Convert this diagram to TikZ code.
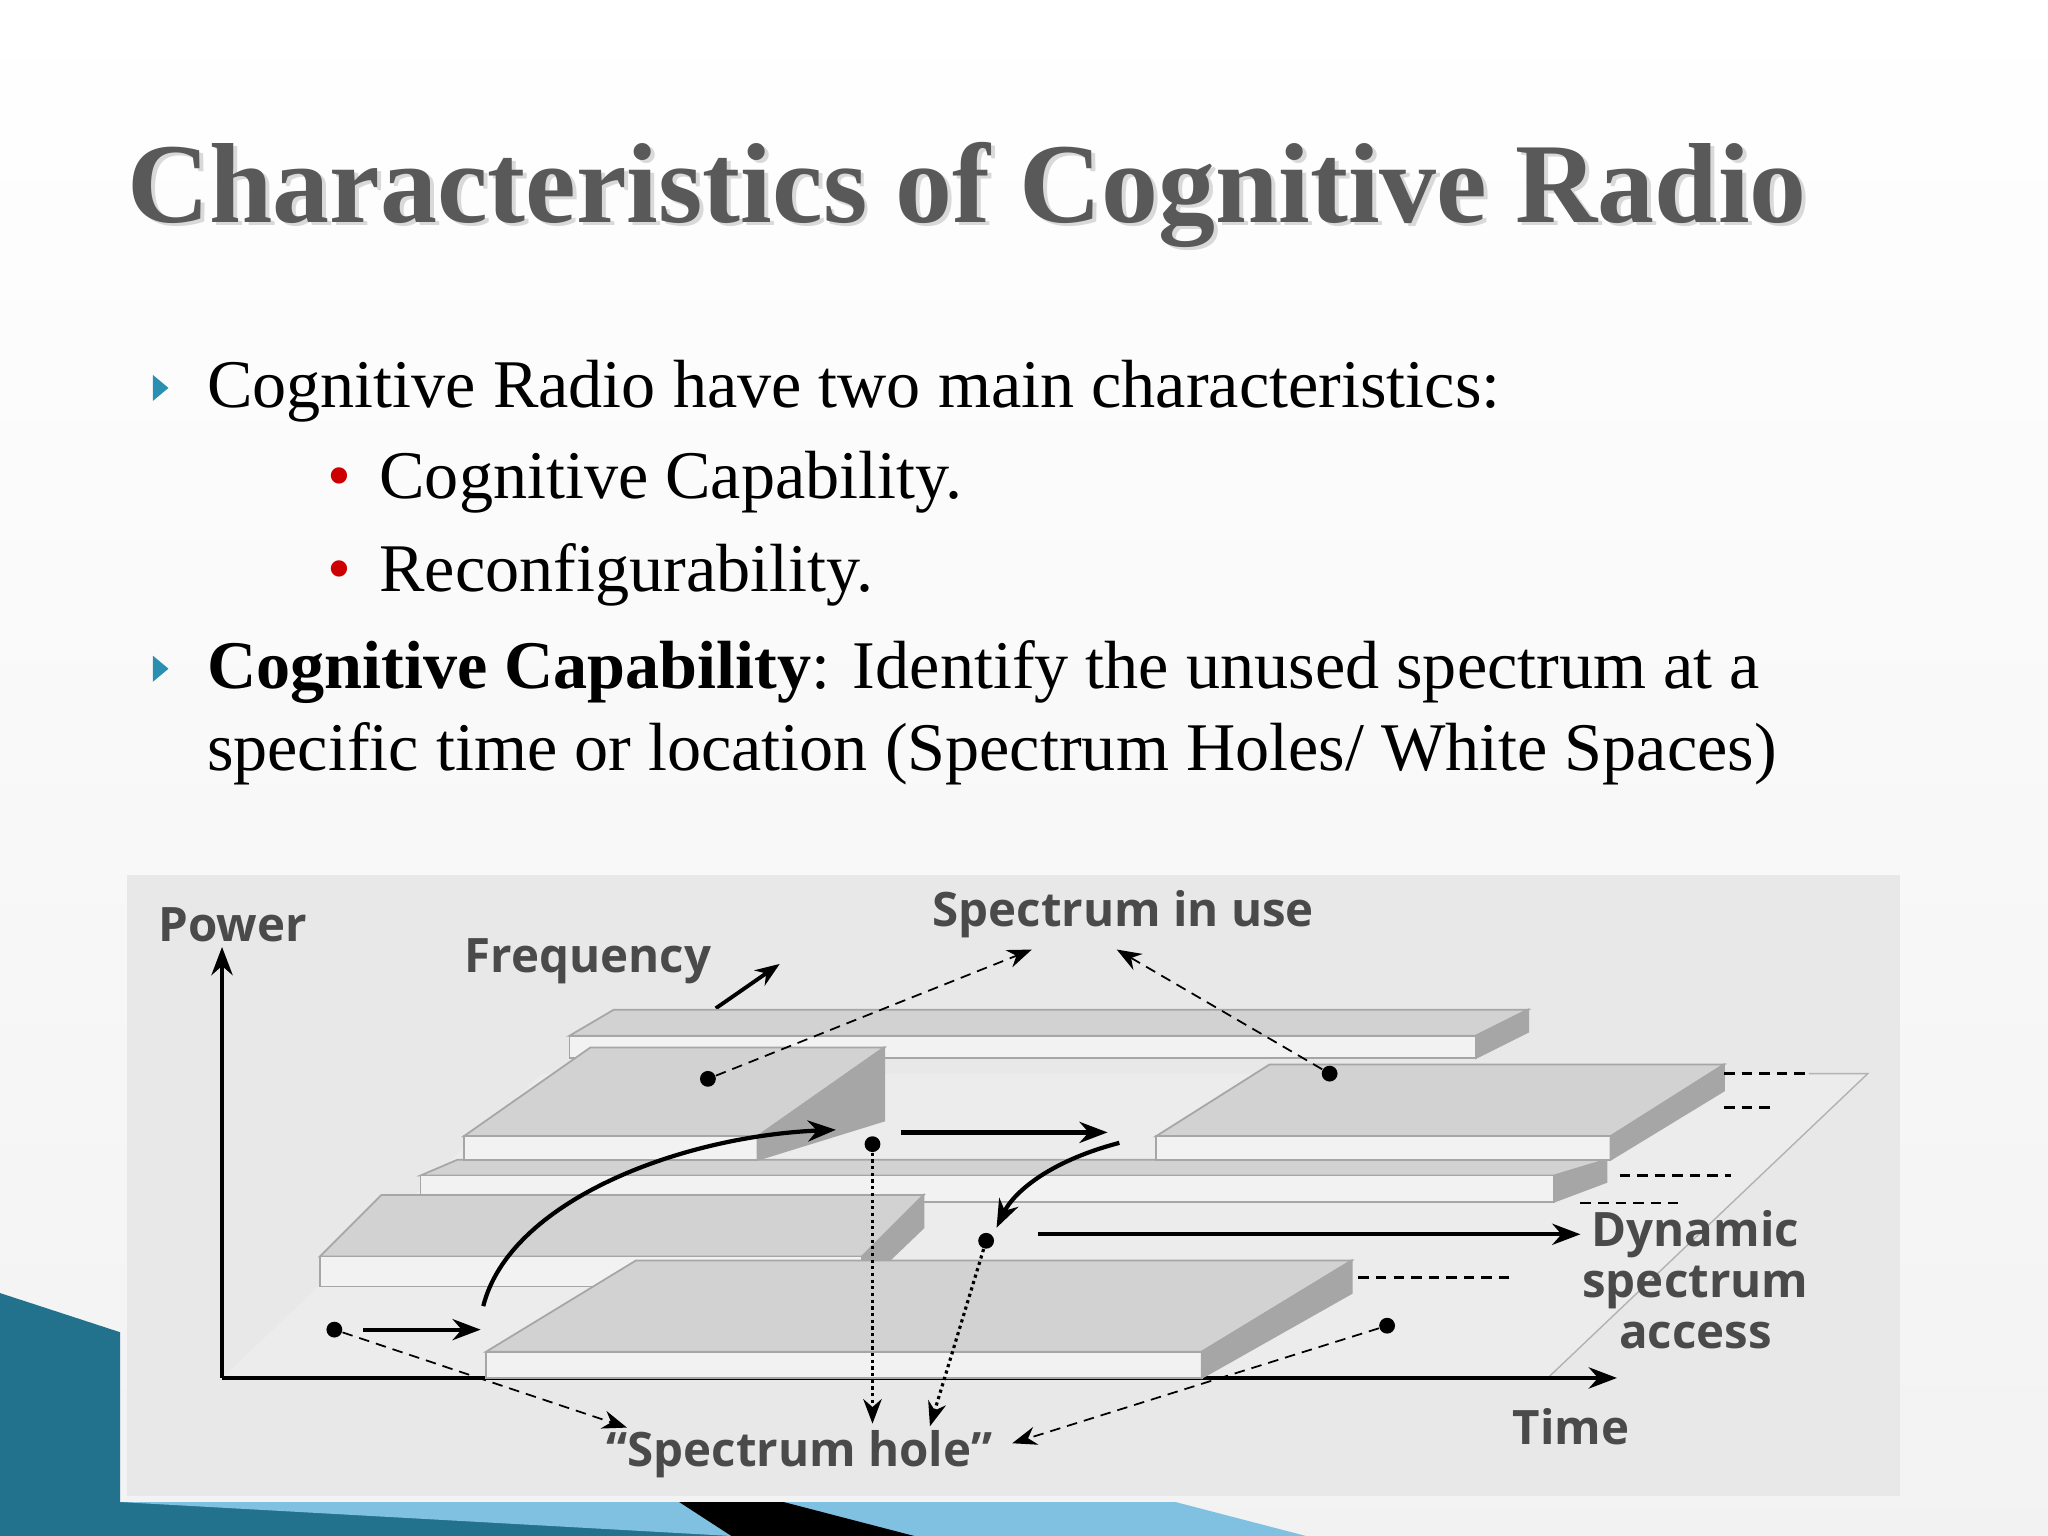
\documentclass[tikz,border=0pt]{standalone}
\usepackage{fontspec}
\setmainfont{Liberation Serif}
\newfontfamily\lab{Open Sans}
\usetikzlibrary{arrows.meta}
\definecolor{lbl}{HTML}{4A4A4A}
\definecolor{topf}{HTML}{D2D2D2}
\definecolor{frontf}{HTML}{F2F2F2}
\definecolor{sidef}{HTML}{A6A6A6}
\definecolor{teal}{HTML}{2A8FB0}
\tikzset{
 lbltext/.style={font=\lab\bfseries\fontsize{13.5}{14}\selectfont, text=lbl, inner sep=0},
 top/.style={fill=topf, draw=gray!70, line width=0.5pt},
 front/.style={fill=frontf, draw=gray!70, line width=0.5pt},
 side/.style={fill=sidef, draw=gray!70, line width=0.5pt},
 dotc/.style={circle, fill=black, inner sep=0, minimum size=4.5pt},
 dsh/.style={densely dashed, line width=0.5pt, -{Stealth[length=7pt]}},
 dtt/.style={densely dotted, line width=0.9pt, -{Stealth[length=7pt]}},
 sol/.style={line width=1.2pt, -{Stealth[length=8pt]}},
 bul/.style={font=\fontsize{19.4}{22}\selectfont, anchor=base west, inner sep=0},
}
\begin{document}
\begin{tikzpicture}[x=0.01306cm, y=-0.01306cm]
\useasboundingbox (0,0) rectangle (1568,1176);
\shade[top color=white, bottom color=gray!10] (0,0) rectangle (1568,1176);
% decoration
\fill[teal!80!black] (0,990) -- (92,1020) -- (92,1150) -- (520,1150) -- (560,1176) -- (0,1176) -- cycle;
\fill[cyan!50!teal!60] (92,1150) -- (900,1150) -- (1000,1176) -- (560,1176) -- cycle;
\fill[black] (520,1150) -- (600,1150) -- (700,1176) -- (560,1176) -- cycle;
% title
\node[font=\bfseries\fontsize{32.4}{36}\selectfont, text=gray!30, anchor=base west, inner sep=0] at (100,173) {Characteristics of Cognitive Radio};
\node[font=\bfseries\fontsize{32.4}{36}\selectfont, text=black!65, anchor=base west, inner sep=0] (title) at (97,170) {Characteristics of Cognitive Radio};
% bullets
\fill[teal] (117,287) -- (129,297) -- (117,307) -- cycle;
\node[bul] (b1) at (158,312) {Cognitive Radio have two main characteristics:};
\node[bul, text=red!80!black] (s1) at (250,382) {\textbullet};
\node[bul] (t1) at (290,382) {Cognitive Capability.};
\node[bul, text=red!80!black] (s2) at (250,453) {\textbullet};
\node[bul] (t2) at (290,453) {Reconfigurability.};
\fill[teal] (117,502) -- (129,512) -- (117,522) -- cycle;
\node[bul] (b2) at (158,527) {\textbf{Cognitive Capability}: Identify the unused spectrum at a};
\node[bul] (b3) at (158,590) {specific time or location (Spectrum Holes/ White Spaces)};
% diagram panel
\fill[gray!18] (97,670) rectangle (1455,1145);
\fill[white!85!gray] (170,1055) -- (1185,1055) -- (1430,822) -- (415,822) -- cycle;
\draw[gray!60] (1185,1055) -- (1430,822) -- (1385,822);
% axes
\draw[line width=1.3pt, -{Stealth[length=8pt]}] (170,1055) -- (170,725);
\draw[line width=1.3pt, -{Stealth[length=8pt]}] (170,1055) -- (1238,1055);
\draw[line width=1.1pt, -{Stealth[length=7pt]}] (548,772) -- (597,738);
% back long slab
\fill[top] (436,793) -- (1130,793) -- (1170,773) -- (470,773) -- cycle;
\fill[front] (436,793) rectangle (1130,810);
\fill[side] (1130,793) -- (1170,773) -- (1170,790) -- (1130,810) -- cycle;
% thin long slab
\fill[top] (322,900) -- (1190,900) -- (1230,888) -- (350,888) -- cycle;
\fill[front] (322,900) rectangle (1190,920);
\fill[side] (1190,900) -- (1230,888) -- (1230,905) -- (1190,920) -- cycle;
% slab A
\fill[top] (355,870) -- (580,870) -- (677,802) -- (452,802) -- cycle;
\fill[front] (355,870) rectangle (580,888);
\fill[side] (580,870) -- (677,802) -- (677,858) -- (580,888) -- cycle;
% slab B
\fill[top] (885,870) -- (1233,870) -- (1320,815) -- (972,815) -- cycle;
\fill[front] (885,870) rectangle (1233,888);
\fill[side] (1233,870) -- (1320,815) -- (1320,835) -- (1233,888) -- cycle;
% slab C
\fill[top] (245,962) -- (660,962) -- (707,915) -- (292,915) -- cycle;
\fill[front] (245,962) rectangle (660,985);
\fill[side] (660,962) -- (707,915) -- (707,940) -- (660,985) -- cycle;
% slab D
\fill[top] (372,1035) -- (920,1035) -- (1035,965) -- (487,965) -- cycle;
\fill[front] (372,1035) rectangle (920,1055);
\fill[side] (920,1035) -- (1035,965) -- (1035,990) -- (920,1055) -- cycle;
% dashed guides
\draw[densely dashed, line width=0.7pt] (1320,822) -- (1385,822);
\draw[densely dashed, line width=0.7pt] (1320,848) -- (1355,848);
\draw[densely dashed, line width=0.7pt] (1240,900) -- (1325,900);
\draw[densely dashed, line width=0.7pt] (1210,921) -- (1285,921);
\draw[densely dashed, line width=0.7pt] (1040,978) -- (1155,978);
% labels
\node[lbltext] (pw) at (178,708) {Power};
\node[lbltext] (fq) at (450,736) {Frequency};
\node[lbltext] (siu) at (860,700) {Spectrum in use};
\node[lbltext] (sh) at (612,1113) {“Spectrum hole”};
\node[lbltext] (tm) at (1203,1092) {Time};
\node[lbltext, align=center, font=\lab\bfseries\fontsize{13.5}{14.5}\selectfont] (dsa) at (1298,980) {Dynamic\\spectrum\\access};
% dots
\node[dotc] (d1) at (542,826) {};
\node[dotc] (d2) at (1018,822) {};
\node[dotc] (d3) at (668,876) {};
\node[dotc] (d4) at (755,950) {};
\node[dotc] (d5) at (256,1018) {};
\node[dotc] (d6) at (1062,1015) {};
\coordinate (h1) at (668,1090);
\coordinate (h2) at (712,1092);
\coordinate (h3) at (480,1093);
\coordinate (h4) at (775,1105);
\coordinate (u1) at (790,727);
\coordinate (u2) at (855,727);
\coordinate (da) at (1210,945);
% connectors
\draw[dsh] (d1) -- (u1);
\draw[dsh] (d2) -- (u2);
\draw[dtt] (d3) -- (h1);
\draw[dtt] (d4) -- (h2);
\draw[dsh] (d5) -- (h3);
\draw[dsh] (d6) -- (h4);
\draw[sol] (690,867) -- (848,867);
\draw[sol] (857,875) .. controls (800,890) and (775,915) .. (763,940);
\draw[sol] (795,945) -- (da);
\draw[sol] (278,1018) -- (368,1018);
\draw[sol] (370,1000) .. controls (390,920) and (520,870) .. (640,865);
\end{tikzpicture}
\end{document}
